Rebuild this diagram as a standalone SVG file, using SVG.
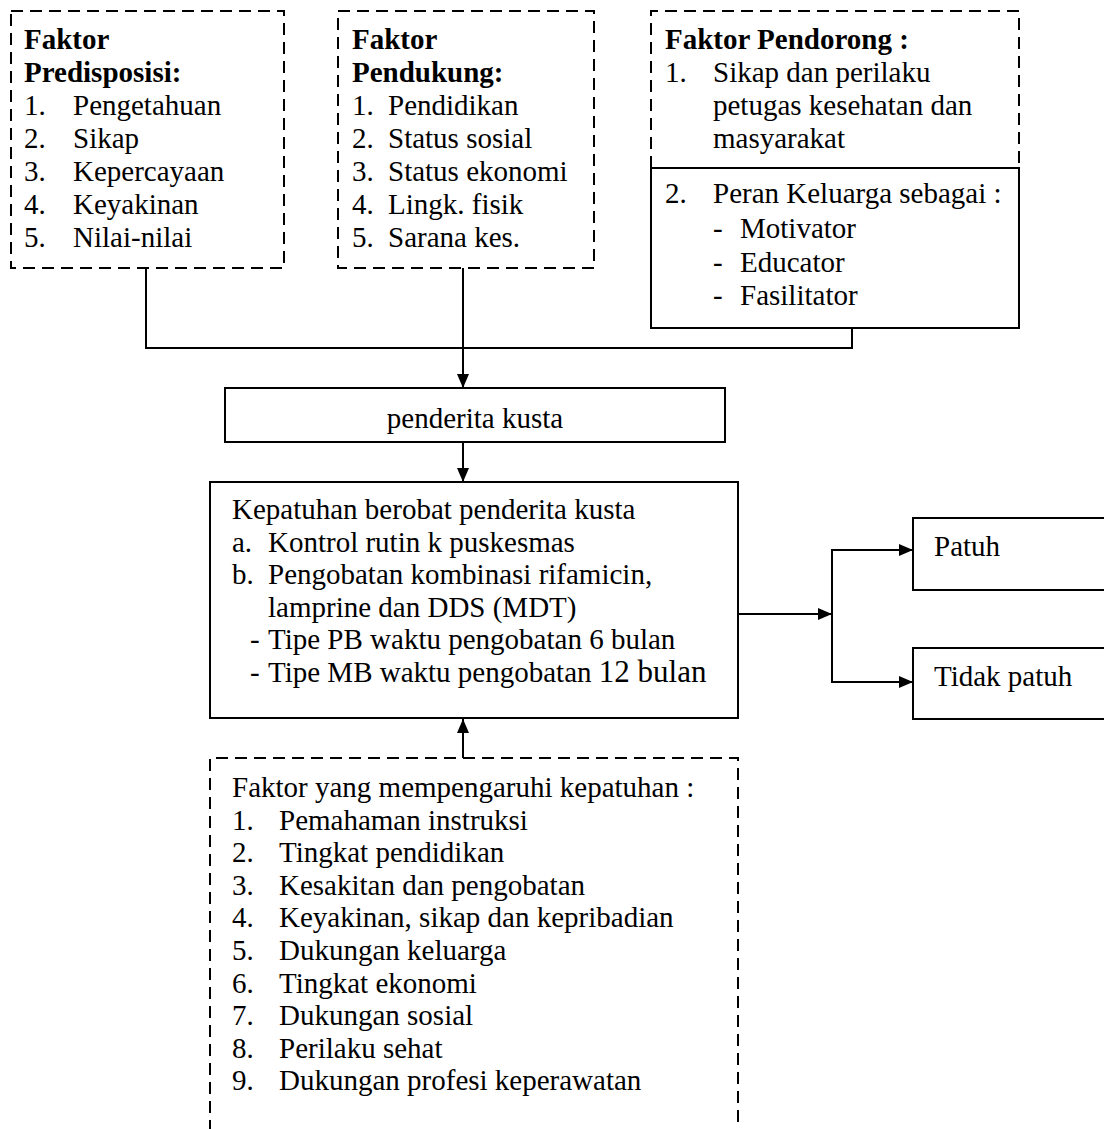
<svg xmlns="http://www.w3.org/2000/svg" width="1104" height="1129" viewBox="0 0 1104 1129">
<style>
text{font-family:"Liberation Serif","Times New Roman",serif;font-size:29px;fill:#000}
.b{font-weight:bold}
.box{fill:none;stroke:#000;stroke-width:2}
.dash{fill:none;stroke:#000;stroke-width:2;stroke-dasharray:12 7}
.con{fill:none;stroke:#000;stroke-width:2}
</style>
<defs>
<marker id="ah" viewBox="0 0 14 12" refX="14" refY="6" markerWidth="14" markerHeight="12" markerUnits="userSpaceOnUse" orient="auto">
<path d="M0,0 L14,6 L0,12 Z" fill="#000"/>
</marker>
</defs>
<rect width="1104" height="1129" fill="#fff"/>

<g id="connectors">
<path class="con" d="M146,268 V348 H852 V328"/>
<path class="con" d="M463,268 V388" marker-end="url(#ah)"/>
<path class="con" d="M463,442 V482" marker-end="url(#ah)"/>
<path class="con" d="M463,758 V719" marker-end="url(#ah)"/>
<path class="con" d="M738,614 H832" marker-end="url(#ah)"/>
<path class="con" d="M832,614 V550 H913" marker-end="url(#ah)"/>
<path class="con" d="M832,614 V682 H913" marker-end="url(#ah)"/>
</g>

<g id="predisposisi">
<rect class="dash" x="11" y="11" width="273" height="257"/>
<text class="b" x="24" y="49">Faktor</text>
<text class="b" x="24" y="82">Predisposisi:</text>
<text x="24" y="115">1.</text><text x="73" y="115">Pengetahuan</text>
<text x="24" y="148">2.</text><text x="73" y="148">Sikap</text>
<text x="24" y="181">3.</text><text x="73" y="181">Kepercayaan</text>
<text x="24" y="214">4.</text><text x="73" y="214">Keyakinan</text>
<text x="24" y="247">5.</text><text x="73" y="247">Nilai-nilai</text>
</g>

<g id="pendukung">
<rect class="dash" x="338" y="11" width="256" height="257"/>
<text class="b" x="352" y="49">Faktor</text>
<text class="b" x="352" y="82">Pendukung:</text>
<text x="352" y="115">1.</text><text x="388" y="115">Pendidikan</text>
<text x="352" y="148">2.</text><text x="388" y="148">Status sosial</text>
<text x="352" y="181">3.</text><text x="388" y="181">Status ekonomi</text>
<text x="352" y="214">4.</text><text x="388" y="214">Lingk. fisik</text>
<text x="352" y="247">5.</text><text x="388" y="247">Sarana kes.</text>
</g>

<g id="pendorong">
<path class="dash" d="M651,168 V11 H1019 V168"/>
<rect class="box" x="651" y="168" width="368" height="160"/>
<text class="b" x="665" y="49">Faktor Pendorong :</text>
<text x="665" y="82">1.</text><text x="713" y="82">Sikap dan perilaku</text>
<text x="713" y="115">petugas kesehatan dan</text>
<text x="713" y="148">masyarakat</text>
<text x="665" y="203">2.</text><text x="713" y="203">Peran Keluarga sebagai :</text>
<text x="713" y="238">-</text><text x="740" y="238">Motivator</text>
<text x="713" y="272">-</text><text x="740" y="272">Educator</text>
<text x="713" y="305">-</text><text x="740" y="305">Fasilitator</text>
</g>

<g id="penderita">
<rect class="box" x="225" y="388" width="500" height="54"/>
<text x="475" y="428" text-anchor="middle">penderita kusta</text>
</g>

<g id="kepatuhan">
<rect class="box" x="210" y="482" width="528" height="236"/>
<text x="232" y="519">Kepatuhan berobat penderita kusta</text>
<text x="232" y="551.6">a.</text><text x="268" y="551.6">Kontrol rutin k puskesmas</text>
<text x="232" y="584.2">b.</text><text x="268" y="584.2">Pengobatan kombinasi rifamicin,</text>
<text x="268" y="616.8">lamprine dan DDS (MDT)</text>
<text x="250" y="649.4">-</text><text x="268" y="649.4">Tipe PB waktu pengobatan 6 bulan</text>
<text x="250" y="682">-</text><text x="268" y="682">Tipe MB waktu pengobatan <tspan font-size="31">12 bulan</tspan></text>
</g>

<g id="patuh">
<path class="box" d="M1106,518 H913 V590 H1106"/>
<text x="934" y="556">Patuh</text>
</g>

<g id="tidak-patuh">
<path class="box" d="M1106,648 H913 V719 H1106"/>
<text x="934" y="686">Tidak patuh</text>
</g>

<g id="faktor-kepatuhan">
<path class="dash" d="M210,1132 V758 H738 V1132"/>
<text x="232" y="797">Faktor yang mempengaruhi kepatuhan :</text>
<text x="232" y="829.6">1.</text><text x="279" y="829.6">Pemahaman instruksi</text>
<text x="232" y="862.2">2.</text><text x="279" y="862.2">Tingkat pendidikan</text>
<text x="232" y="894.8">3.</text><text x="279" y="894.8">Kesakitan dan pengobatan</text>
<text x="232" y="927.4">4.</text><text x="279" y="927.4">Keyakinan, sikap dan kepribadian</text>
<text x="232" y="960">5.</text><text x="279" y="960">Dukungan keluarga</text>
<text x="232" y="992.6">6.</text><text x="279" y="992.6">Tingkat ekonomi</text>
<text x="232" y="1025.2">7.</text><text x="279" y="1025.2">Dukungan sosial</text>
<text x="232" y="1057.8">8.</text><text x="279" y="1057.8">Perilaku sehat</text>
<text x="232" y="1090.4">9.</text><text x="279" y="1090.4">Dukungan profesi keperawatan</text>
</g>
</svg>
